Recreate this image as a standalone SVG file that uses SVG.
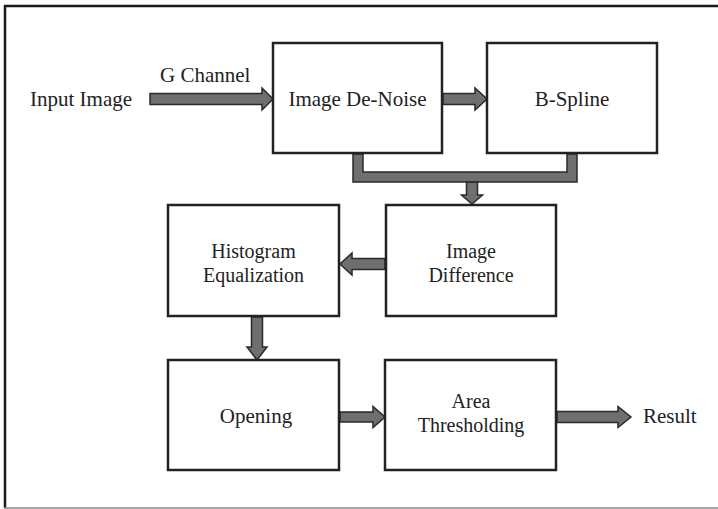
<svg xmlns="http://www.w3.org/2000/svg" width="718" height="509" viewBox="0 0 718 509">
<style>
.box{fill:#fff;stroke:#222;stroke-width:2.5}
.arr{fill:#6f6f6f;stroke:#2a2a2a;stroke-width:1.5;stroke-linejoin:miter}
text{font-family:"Liberation Serif","Times New Roman",serif;font-size:21px;fill:#222}
.c{text-anchor:middle}
.t2{font-size:20px}
</style>
<rect width="718" height="509" fill="#fff"/>
<g id="frame">
<line x1="4" y1="6" x2="718" y2="6" stroke="#1a1a1a" stroke-width="2.5"/>
<line x1="5" y1="5" x2="5" y2="508" stroke="#1a1a1a" stroke-width="2.5"/>
<line x1="4" y1="508" x2="718" y2="508" stroke="#888" stroke-width="1.5"/>
</g>
<g id="labels">
<text x="30" y="106">Input Image</text>
<text x="160" y="82">G Channel</text>
<text x="643" y="423">Result</text>
</g>
<g id="connectors">
<polygon class="arr" points="150,93.5 262,93.5 262,88 273,99 262,110 262,104.5 150,104.5"/>
<polygon class="arr" points="443,93.5 475,93.5 475,88 487,99 475,110 475,104.5 443,104.5"/>
<polygon class="arr" points="353,154 353,182 577,182 577,154 567,154 567,172 363,172 363,154"/>
<polygon class="arr" points="466.5,182 477.5,182 477.5,195 482.5,195 472,204 461.5,195 466.5,195"/>
<polygon class="arr" points="385,258.5 352,258.5 352,253 340,264 352,275 352,269.5 385,269.5"/>
<polygon class="arr" points="251.5,317 262.5,317 262.5,347 267,347 257,360 247,347 251.5,347"/>
<polygon class="arr" points="340,412 373,412 373,406.5 385,417 373,427.5 373,422 340,422"/>
<polygon class="arr" points="557,411.5 618,411.5 618,406.5 631,417 618,427.5 618,422.5 557,422.5"/>
</g>
<g id="denoise"><rect class="box" x="273" y="43" width="169" height="110"/><text class="c" x="357.5" y="106">Image De-Noise</text></g>
<g id="bspline"><rect class="box" x="487" y="43" width="170" height="110"/><text class="c" x="572" y="106">B-Spline</text></g>
<g id="histogram"><rect class="box" x="168" y="205" width="171" height="111"/><text class="c t2" x="253.5" y="258">Histogram</text><text class="c t2" x="253.5" y="282">Equalization</text></g>
<g id="difference"><rect class="box" x="386" y="205" width="170" height="111"/><text class="c t2" x="471" y="258">Image</text><text class="c t2" x="471" y="282">Difference</text></g>
<g id="opening"><rect class="box" x="168" y="360" width="171" height="110"/><text class="c" x="256" y="423">Opening</text></g>
<g id="area"><rect class="box" x="385" y="360" width="171" height="110"/><text class="c t2" x="471" y="408">Area</text><text class="c t2" x="471" y="432">Thresholding</text></g>
</svg>
